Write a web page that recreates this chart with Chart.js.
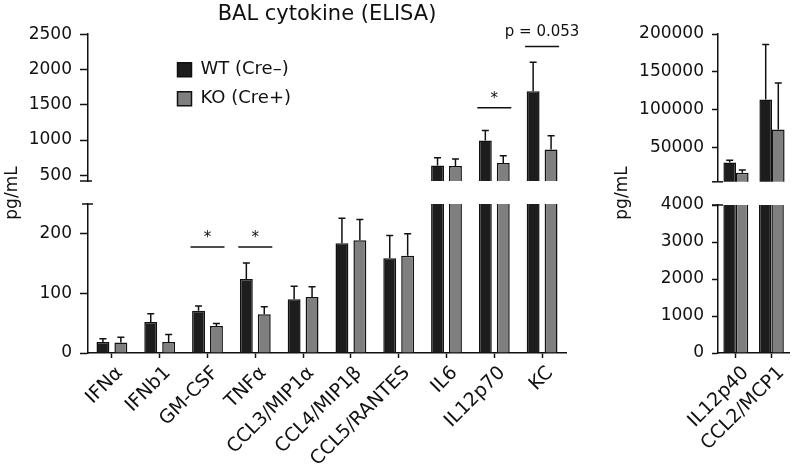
<!DOCTYPE html>
<html><head><meta charset="utf-8">
<script src="https://cdn.jsdelivr.net/npm/chart.js@4.4.0/dist/chart.umd.min.js"></script>
<style>
html,body{margin:0;padding:0;background:#fff;}
#wrap{position:relative;width:792px;height:475px;overflow:hidden;background:#fff}
canvas{position:absolute;display:block}
</style></head><body>
<div id="wrap">
  <canvas id="lu" width="600" height="200" style="left:0;top:0"></canvas>
  <canvas id="ll" width="600" height="325" style="left:0;top:150px"></canvas>
  <canvas id="ru" width="192" height="200" style="left:600px;top:0"></canvas>
  <canvas id="rl" width="192" height="325" style="left:600px;top:150px"></canvas>
</div>
<script>
// ---------------- data ----------------
const chartTitle = 'BAL cytokine (ELISA)';
const yAxisTitle = 'pg/mL';
const seriesLabels = ['WT (Cre–)', 'KO (Cre+)'];

const categories = ['IFNα', 'IFNb1', 'GM-CSF', 'TNFα', 'CCL3/MIP1α', 'CCL4/MIP1β', 'CCL5/RANTES', 'IL6', 'IL12p70', 'KC'];
const wtMean = [18.5, 52, 71, 124, 90, 184, 159, 641, 995, 1693];
const wtSem  = [5.5, 14, 8, 27, 22, 42, 38, 109, 142, 411];
const koMean = [17.5, 18.5, 45.5, 65, 94, 189, 163, 632, 674, 868];
const koSem  = [9, 12.5, 4, 12.5, 17, 35, 37, 99, 105, 194];

const rightCategories = ['IL12p40', 'CCL2/MCP1'];
const rightWtMean = [30300, 113500];
const rightWtSem  = [3000, 72500];
const rightKoMean = [17100, 74100];
const rightKoSem  = [3400, 61400];

const leftUpperTicks  = [500, 1000, 1500, 2000, 2500];
const leftLowerTicks  = [0, 100, 200];
const rightUpperTicks = [50000, 100000, 150000, 200000];
const rightLowerTicks = [0, 1000, 2000, 3000, 4000];

const sigCategories = ['GM-CSF', 'TNFα', 'IL12p70', 'KC'];
const sigLabels     = ['*', '*', '*', 'p = 0.053'];
const sigLevels     = [178, 178, 1458, 2326];

// ---------------- styling ----------------
const INK = '#111111';
const WT_FILL = '#1d1d1d';
const KO_FILL = '#7f7f7f';
const FONT = '"DejaVu Sans", "Liberation Sans", sans-serif';
Chart.defaults.font.family = FONT;
Chart.defaults.color = INK;

function barSets(wt, wtE, ko, koE, catPct, barPct) {
  const common = {borderColor: INK, borderWidth: 1.5, clip: 0, categoryPercentage: catPct, barPercentage: barPct};
  return [
    Object.assign({label: seriesLabels[0], data: wt, errors: wtE, backgroundColor: WT_FILL}, common),
    Object.assign({label: seriesLabels[1], data: ko, errors: koE, backgroundColor: KO_FILL}, common)
  ];
}

function yAxis(min, max, ticks, tickLen, width) {
  return {
    type: 'linear', min: min, max: max,
    afterBuildTicks: s => { s.ticks = ticks.map(v => ({value: v})); },
    afterFit: s => { s.width = width; },
    border: {display: true, color: INK, width: 1.5},
    grid: {display: true, drawOnChartArea: false, drawTicks: true, tickLength: tickLen, tickWidth: 1.5, tickColor: INK},
    ticks: {color: INK, font: {size: 17}, padding: 8, callback: v => String(v)}
  };
}

function xAxis(show, height, shift) {
  return {
    type: 'category', offset: true, display: show,
    afterFit: s => { s.height = height; },
    border: {display: true, color: INK, width: 1.5},
    grid: {display: true, offset: false, drawOnChartArea: false, drawTicks: true, tickLength: 5, tickWidth: 1.5, tickColor: INK},
    ticks: {color: INK, font: {size: 19}, minRotation: 45, maxRotation: 45, autoSkip: false, padding: 4, labelOffset: shift}
  };
}

// ---------------- plugins ----------------
const errorBars = {
  id: 'errorBars',
  afterDatasetsDraw(chart) {
    const ctx = chart.ctx, a = chart.chartArea;
    ctx.save();
    ctx.beginPath(); ctx.rect(a.left, a.top, a.right - a.left, a.bottom - a.top); ctx.clip();
    ctx.strokeStyle = INK; ctx.lineWidth = 1.5;
    chart.data.datasets.forEach((ds, di) => {
      const meta = chart.getDatasetMeta(di);
      const ys = chart.scales[meta.yAxisID];
      meta.data.forEach((bar, i) => {
        const top = ys.getPixelForValue(ds.data[i] + ds.errors[i]);
        ctx.beginPath();
        ctx.moveTo(bar.x, bar.y); ctx.lineTo(bar.x, top);
        ctx.moveTo(bar.x - 3.5, top); ctx.lineTo(bar.x + 3.5, top);
        ctx.stroke();
      });
    });
    ctx.restore();
  }
};

const sigMarks = {
  id: 'sigMarks',
  afterDatasetsDraw(chart) {
    const ctx = chart.ctx, xs = chart.scales.x, ys = chart.scales.y;
    ctx.save();
    ctx.strokeStyle = INK; ctx.fillStyle = INK; ctx.lineWidth = 1.5;
    sigCategories.forEach((cat, k) => {
      const idx = chart.data.labels.indexOf(cat);
      const lvl = sigLevels[k];
      if (idx < 0 || lvl < ys.min || lvl > ys.max) return;
      const cx = xs.getPixelForValue(idx);
      const y = ys.getPixelForValue(lvl);
      ctx.beginPath(); ctx.moveTo(cx - 17, y); ctx.lineTo(cx + 17, y); ctx.stroke();
      const star = sigLabels[k] === '*';
      ctx.font = '15px ' + FONT;
      ctx.textAlign = 'center'; ctx.textBaseline = 'alphabetic';
      ctx.fillText(sigLabels[k], cx, star ? y - 5 : y - 10);
    });
    ctx.restore();
  }
};

const breakCaps = {
  id: 'breakCaps',
  afterDraw(chart, args, opts) {
    const ctx = chart.ctx, ys = chart.scales.y, a = chart.chartArea;
    const y = opts.edge === 'top' ? a.top : a.bottom;
    ctx.save(); ctx.strokeStyle = INK; ctx.lineWidth = 1.5;
    ctx.beginPath(); ctx.moveTo(ys.right - opts.left, y); ctx.lineTo(ys.right + opts.right, y); ctx.stroke();
    ctx.restore();
  }
};

const yTitle = {
  id: 'yTitle',
  afterDraw(chart, args, opts) {
    const ctx = chart.ctx;
    ctx.save();
    ctx.translate(opts.x, chart.chartArea.top - opts.above);
    ctx.rotate(-Math.PI / 2);
    ctx.fillStyle = INK; ctx.font = '17px ' + FONT;
    ctx.textAlign = 'center'; ctx.textBaseline = 'middle';
    ctx.fillText(yAxisTitle, 0, 0);
    ctx.restore();
  }
};

const legendPlace = {
  id: 'legendPlace',
  afterLayout(chart, args, opts) {
    const lg = chart.legend; if (!lg) return;
    const w = lg.width, h = lg.height;
    lg.left = opts.left; lg.top = opts.top; lg.right = opts.left + w; lg.bottom = opts.top + h;
  }
};

const noTip = {enabled: false};

// ---------------- charts ----------------
new Chart(document.getElementById('lu'), {
  type: 'bar',
  data: {labels: categories, datasets: barSets(wtMean, wtSem, koMean, koSem, 0.75, 0.72)},
  options: {
    responsive: false, animation: false,
    layout: {padding: {top: 0, left: 0, right: 34, bottom: 19}},
    scales: {x: xAxis(false, 0, 8), y: yAxis(420, 2500, leftUpperTicks, 8, 88)},
    plugins: {
      title: {display: true, text: chartTitle, fullSize: false, color: INK, font: {size: 21, weight: 'normal'}, padding: {top: 2, bottom: 7}},
      legend: {display: true, position: 'chartArea', align: 'start',
               labels: {boxWidth: 14, boxHeight: 14, padding: 11, color: INK, font: {size: 18}}},
      legendPlace: {left: 166.5, top: 49.7},
      breakCaps: {edge: 'bottom', left: 8, right: 4},
      tooltip: noTip
    }
  },
  plugins: [errorBars, sigMarks, breakCaps, legendPlace]
});

new Chart(document.getElementById('ll'), {
  type: 'bar',
  data: {labels: categories, datasets: barSets(wtMean, wtSem, koMean, koSem, 0.75, 0.72)},
  options: {
    responsive: false, animation: false,
    layout: {padding: {top: 54, left: 0, right: 34, bottom: 0}},
    scales: {x: xAxis(true, 122, 8), y: yAxis(0, 250, leftLowerTicks, 8, 88)},
    plugins: {
      legend: {display: false}, title: {display: false},
      breakCaps: {edge: 'top', left: 6, right: 5},
      yTitle: {x: 12.5, above: 11},
      tooltip: noTip
    }
  },
  plugins: [errorBars, sigMarks, breakCaps, yTitle]
});

new Chart(document.getElementById('ru'), {
  type: 'bar',
  data: {labels: rightCategories, datasets: barSets(rightWtMean, rightWtSem, rightKoMean, rightKoSem, 0.7, 1.0)},
  options: {
    responsive: false, animation: false,
    layout: {padding: {top: 34, left: 0, right: 2, bottom: 18}},
    scales: {x: xAxis(false, 0, 10), y: yAxis(5000, 200000, rightUpperTicks, 6, 118)},
    plugins: {
      legend: {display: false}, title: {display: false},
      breakCaps: {edge: 'bottom', left: 6, right: 5},
      tooltip: noTip
    }
  },
  plugins: [errorBars, breakCaps]
});

new Chart(document.getElementById('rl'), {
  type: 'bar',
  data: {labels: rightCategories, datasets: barSets(rightWtMean, rightWtSem, rightKoMean, rightKoSem, 0.7, 1.0)},
  options: {
    responsive: false, animation: false,
    layout: {padding: {top: 55, left: 0, right: 2, bottom: 0}},
    scales: {x: xAxis(true, 122, 10), y: yAxis(0, 4000, rightLowerTicks, 6, 118)},
    plugins: {
      legend: {display: false}, title: {display: false},
      breakCaps: {edge: 'top', left: 6, right: 5},
      yTitle: {x: 23, above: 12},
      tooltip: noTip
    }
  },
  plugins: [errorBars, breakCaps, yTitle]
});
</script>
</body></html>
